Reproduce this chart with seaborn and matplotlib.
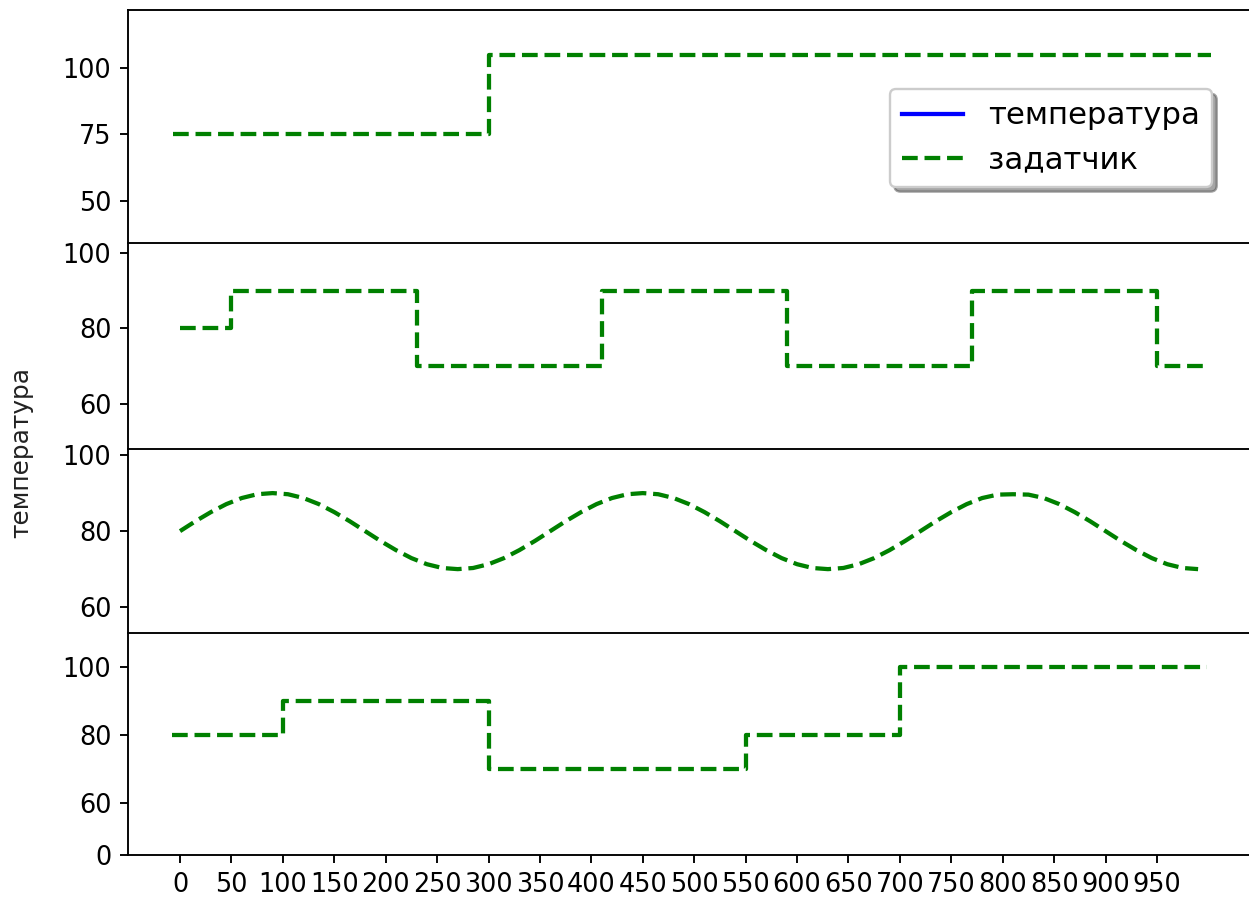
import matplotlib
matplotlib.use("Agg")
import matplotlib.pyplot as plt
from matplotlib.lines import Line2D
import seaborn as sns

# setpoint data, one pair of lists per panel
t1 = [-7, 300, 300, 1003]
sp1 = [75, 75, 105, 105]

t2 = [0, 50, 50, 230, 230, 410, 410, 590, 590, 770, 770, 950, 950, 999]
sp2 = [80, 80, 90, 90, 70, 70, 90, 90, 70, 70, 90, 90, 70, 70]

t3 = list(range(0, 991, 15))
sp3 = [80, 82.6, 85, 87.1, 88.7, 89.7, 90, 89.7, 88.7, 87.1, 85, 82.6,
       80, 77.4, 75, 72.9, 71.3, 70.3, 70, 70.3, 71.3, 72.9, 75, 77.4,
       80, 82.6, 85, 87.1, 88.7, 89.7, 90, 89.7, 88.7, 87.1, 85, 82.6,
       80, 77.4, 75, 72.9, 71.3, 70.3, 70, 70.3, 71.3, 72.9, 75, 77.4,
       80, 82.6, 85, 87.1, 88.7, 89.6, 89.7, 89.6, 88.7, 87.1, 85, 82.6,
       80, 77.4, 75, 72.9, 71.3, 70.3, 70]

t4 = [-8, 100, 100, 300, 300, 550, 550, 700, 700, 999]
sp4 = [80, 80, 90, 90, 70, 70, 80, 80, 100, 100]

panels = [(t1, sp1), (t2, sp2), (t3, sp3), (t4, sp4)]
ylims = [(34.2, 121.8), (48.1, 102.6), (53.2, 101.6), (44.7, 110)]
yticks = [[50, 75, 100], [60, 80, 100], [60, 80, 100], [60, 80, 100]]
xticks = list(range(0, 1000, 50))

labels = ["температура", "задатчик"]

dpi = 170
plt.rcParams["xtick.labelsize"] = 10.8
plt.rcParams["ytick.labelsize"] = 10.8
fig = plt.figure(figsize=(1249 / dpi, 897 / dpi), dpi=dpi)

left, right, top, bottom = 128 / 1249, 1.0, 1 - 10 / 897, 1 - 855 / 897

# outer axes just carries the shared y label and the lone "0" tick
outer = fig.add_axes([left, bottom, right - left, top - bottom], frameon=False)
outer.set_ylim(0, 1)
outer.set_yticks([0])
outer.set_yticklabels(["0"])
outer.set_xticks([])
outer.set_ylabel(labels[0], fontsize=10.5, color="#222222")
outer.yaxis.set_label_coords(-95 / 1121, (855 - 452) / 845)

gs = fig.add_gridspec(4, 1, height_ratios=[233, 206, 184, 222], hspace=0,
                      left=left, right=right, top=top, bottom=bottom)

axes = []
for i, (t, sp) in enumerate(panels):
    ax = fig.add_subplot(gs[i], sharex=axes[0] if axes else None)
    ax.patch.set_alpha(0)
    sns.lineplot(x=t, y=sp, ax=ax, color="green", linestyle="--",
                 linewidth=1.8, estimator=None, sort=False)
    ax.set_ylim(*ylims[i])
    ax.set_yticks(yticks[i])
    ax.spines["right"].set_visible(False)
    if i < 3:
        ax.spines["bottom"].set_visible(False)
        ax.tick_params(bottom=False, labelbottom=False)
    axes.append(ax)

axes[-1].set_xlim(-50.6, 1039.5)
axes[-1].set_xticks(xticks)

handles = [Line2D([], [], color="blue", linewidth=1.8),
           Line2D([], [], color="green", linestyle="--", linewidth=1.8)]
axes[0].legend(handles, labels, loc="upper right", fontsize=13, shadow=True,
               bbox_to_anchor=(1212 / 1249, 1 - 89 / 897),
               bbox_transform=fig.transFigure, borderaxespad=0)

fig.savefig("out.png", dpi=dpi)
